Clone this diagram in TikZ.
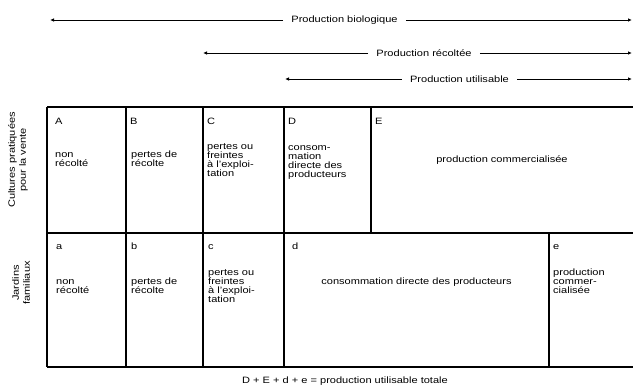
\documentclass[tikz,border=0pt]{standalone}
\usepackage{fontspec}
\setmainfont{Liberation Sans}[FakeStretch=1.2]
\usetikzlibrary{arrows.meta}
\begin{document}
\begin{tikzpicture}[x=1pt,y=-1pt,
  every node/.style={font=\fontsize{9.2}{9}\selectfont},
  grid/.style={line width=1.4pt},
  prodarrow/.style={line width=1pt,-{Latex[length=4pt,width=3.5pt]}},
  lbl/.style={inner xsep=8pt,inner ysep=1pt},
  cell/.style={anchor=base west,inner sep=0pt,align=left},
  side/.style={rotate=90,align=center,font=\fontsize{9.2}{11}\selectfont}]
\useasboundingbox (0,0) rectangle (633,388);

% production arrows
\coordinate (bioL) at (50,20);  \coordinate (bioR) at (632,20);
\coordinate (recL) at (203,53); \coordinate (recR) at (632,53);
\coordinate (utiL) at (285,79); \coordinate (utiR) at (632,79);
\node[lbl] (bio) at (344.5,20) {Production biologique};
\node[lbl] (rec) at (424,53) {Production récoltée};
\node[lbl] (uti) at (459.5,79) {Production utilisable};
\draw[prodarrow] (bio) -- (bioL);
\draw[prodarrow] (bio) -- (bioR);
\draw[prodarrow] (rec) -- (recL);
\draw[prodarrow] (rec) -- (recR);
\draw[prodarrow] (uti) -- (utiL);
\draw[prodarrow] (uti) -- (utiR);

% table grid
\draw[grid] (47,107) -- (633,107);
\draw[grid] (47,233) -- (633,233);
\draw[grid] (47,367) -- (633,367);
\draw[grid] (47,107) -- (47,367);
\draw[grid] (126,107) -- (126,367);
\draw[grid] (203,107) -- (203,367);
\draw[grid] (284,107) -- (284,367);
\draw[grid] (371,107) -- (371,233);
\draw[grid] (549,233) -- (549,367);

% side labels
\node[side] (cult) at (18,160) {Cultures pratiquées\\pour la vente};
\node[side] (jard) at (21,283) {Jardins\\familiaux};

% top row (base anchor = baseline of last line)
\node[cell] (lA) at (55,124.5) {A};
\node[cell] (lB) at (130,124.5) {B};
\node[cell] (lC) at (207,124.5) {C};
\node[cell] (lD) at (288,124.5) {D};
\node[cell] (lE) at (375,124.5) {E};
\node[cell] (tA) at (55,166.5) {non\\récolté};
\node[cell] (tB) at (131,166.5) {pertes de\\récolte};
\node[cell] (tC) at (207,176.5) {pertes ou\\freintes\\à l'exploi-\\tation};
\node[cell] (tD) at (288,177.5) {consom-\\mation\\directe des\\producteurs};
\node[anchor=base,inner sep=0pt] (tE) at (502,162.5) {production commercialisée};

% bottom row
\node[cell] (la) at (56,249) {a};
\node[cell] (lb) at (131,249) {b};
\node[cell] (lc) at (208,249) {c};
\node[cell] (ld) at (292,249) {d};
\node[cell] (le) at (553,249) {e};
\node[cell] (ta) at (56,293.5) {non\\récolté};
\node[cell] (tb) at (131,293.5) {pertes de\\récolte};
\node[cell] (tc) at (208,302.5) {pertes ou\\freintes\\à l'exploi-\\tation};
\node[anchor=base,inner sep=0pt] (td) at (416.5,284.5) {consommation directe des producteurs};
\node[cell] (te) at (553,293.5) {production\\commer-\\cialisée};

% formula
\node (sum) at (345,381) {D + E + d + e = production utilisable totale};
\end{tikzpicture}
\end{document}
